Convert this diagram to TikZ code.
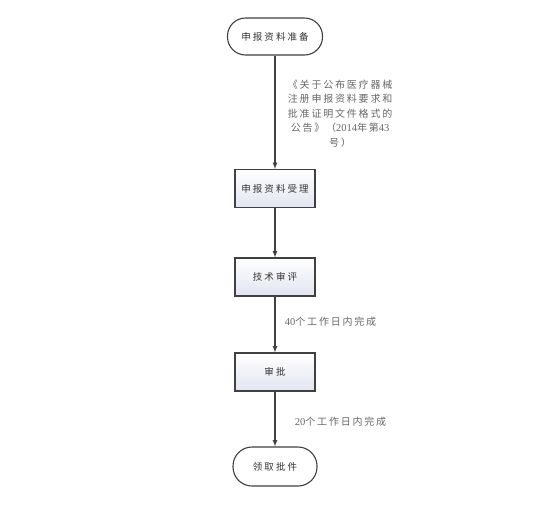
\documentclass[tikz,border=0pt]{standalone}
\usepackage{fontspec}
\setmainfont{Noto Sans CJK SC}[LetterSpace=22]
\newfontfamily\numfont{Liberation Serif}
\newcommand\num[1]{{\numfont\fontsize{10.5}{14.5}\selectfont #1}}
\definecolor{boxfill}{RGB}{226,229,240}
\definecolor{linegray}{RGB}{64,64,64}
\begin{document}
\begin{tikzpicture}[x=1pt, y=-1pt, thick,
    every node/.style={font=\fontsize{9.5}{14.5}\selectfont},
    terminal/.style={draw=linegray, line width=1.1pt, rounded corners=18pt,
      minimum height=37pt, fill=white, text=black!80},
    stepbox/.style={draw=linegray, line width=1.1pt, minimum width=80pt,
      minimum height=38pt, top color=white, bottom color=boxfill, text=black!80},
    flow/.style={-latex, draw=linegray, line width=1.2pt},
    note/.style={text=black!60, align=center,
      font=\addfontfeature{LetterSpace=18}\fontsize{10}{14.5}\selectfont},
  ]
  \useasboundingbox (0,0) rectangle (554,504);

  \node[terminal, minimum width=95pt] (start) at (275, 36.5) {申报资料准备};
  \node[stepbox] (accept) at (275, 188.5) {申报资料受理};
  \node[stepbox] (review) at (275, 277) {技术审评};
  \node[stepbox] (approve) at (275, 372) {审批};
  \node[terminal, minimum width=84pt, minimum height=39pt, rounded corners=19pt]
    (collect) at (275, 466.5) {领取批件};

  \draw[flow] (start) -- (accept)
    node[note, midway, anchor=west, xshift=9pt, yshift=-1pt]
    {《关于公布医疗器械\\注册申报资料要求和\\批准证明文件格式的\\公告》（\num{2014}年第\num{43}\\号）};
  \draw[flow] (accept) -- (review);
  \draw[flow] (review) -- (approve)
    node[note, pos=0.45, anchor=west, xshift=6pt] {\num{40}个工作日内完成};
  \draw[flow] (approve) -- (collect)
    node[note, pos=0.55, anchor=west, xshift=16pt] {\num{20}个工作日内完成};
\end{tikzpicture}
\end{document}
